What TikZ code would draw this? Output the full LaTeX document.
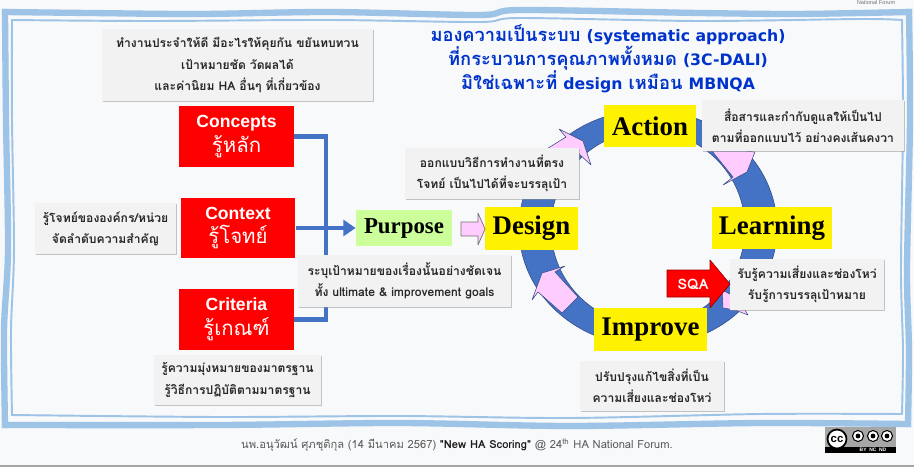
\documentclass[tikz,border=0pt]{standalone}
\usepackage{fontspec}
\usepackage{xcolor}
\usetikzlibrary{arrows.meta,shadows}
\setmainfont{Liberation Serif}
\newfontfamily\thaifont[Script=Thai]{Loma}
\newfontfamily\arialfont{Liberation Sans}
\newfontfamily\titlefont[Scale=0.86]{DejaVu Sans}
\definecolor{paper}{HTML}{F8F9FB}
\definecolor{frameblue}{HTML}{9DC3E6}
\definecolor{ringblue}{HTML}{4472C4}
\definecolor{ringedge}{HTML}{2F4A80}
\definecolor{pinkfill}{HTML}{FFCCFF}
\definecolor{notegray}{HTML}{F2F2F2}
\definecolor{titleblue}{HTML}{0033CC}
\tikzset{
  notebox/.style={fill=notegray, inner sep=0pt, align=center, text=black!85,
    font=\thaifont\bfseries\fontsize{6.9}{12}\selectfont,
    drop shadow={shadow xshift=0.7pt, shadow yshift=-0.7pt, fill=black!45}},
  redbox/.style={fill=red, text=white, inner sep=0pt, align=center,
    minimum width=2.3cm, minimum height=1.22cm},
  yellowbox/.style={fill=yellow, text=black, inner sep=0pt,
    font=\bfseries\fontsize{15.3}{18}\selectfont},
  pinkpart/.style={fill=pinkfill, draw=ringedge, line width=0.3pt, line join=round},
  thickframe/.style={frameblue, line width=3.6pt, line cap=rect},
  thinframe/.style={frameblue, line width=1.1pt, line cap=rect},
  conn/.style={draw=ringblue, line width=2.4pt},
}
\newcommand{\redtext}[2]{\arialfont\bfseries\fontsize{10}{13}\selectfont #1\\[2pt]\thaifont\mdseries\fontsize{11.6}{14}\selectfont #2}
\newcommand{\titlelatin}[1]{{\titlefont\bfseries #1}}
\begin{document}
\begin{tikzpicture}[x=0.02cm,y=-0.02cm]
\useasboundingbox (0,0) rectangle (914,467);
\fill[paper] (0,0) rectangle (914,467);
\fill[black!35] (0,465) rectangle (914,467);

% Draw the wavy frame, thick outer line and thin inner line
\draw[thickframe] plot[smooth, tension=0.5] coordinates {(5,12) (90,13) (200,14) (330,12) (480,15) (520,10) (700,13) (790,14) (860,13) (909,12)};
\draw[thickframe] plot[smooth, tension=0.5] coordinates {(909,12) (910,120) (907,270) (909,350) (908,424)};
\draw[thickframe] plot[smooth, tension=0.5] coordinates {(908,424) (760,423) (570,426) (400,423) (220,425) (5,425)};
\draw[thickframe] plot[smooth, tension=0.5] coordinates {(5,425) (4,330) (8,250) (6,120) (5,12)};
\draw[thinframe] plot[smooth, tension=0.5] coordinates {(12,20) (150,21) (330,20) (480,22) (520,18) (700,21) (860,19) (902,20)};
\draw[thinframe] plot[smooth, tension=0.5] coordinates {(902,20) (903,120) (901,270) (903,350) (902,414)};
\draw[thinframe] plot[smooth, tension=0.5] coordinates {(902,414) (760,414) (570,418) (400,416) (220,417) (12,415)};
\draw[thinframe] plot[smooth, tension=0.5] coordinates {(12,415) (11,330) (14,250) (12,120) (12,20)};
\node (forumtag) at (876,2) {\arialfont\fontsize{3.2}{4}\selectfont\textcolor{black!55}{National Forum}};

% Draw the title
\node[align=center, text=titleblue, font=\thaifont\bfseries\fontsize{10.4}{13.6}\selectfont] (title) at (608,59)
    {มองความเป็นระบบ  \titlelatin{(systematic approach)}\\ที่กระบวนการคุณภาพทั้งหมด \titlelatin{(3C-DALI)}\\มิใช่เฉพาะที่ \titlelatin{design} เหมือน \titlelatin{MBNQA}};

% Draw the ring and the pink arrows on it
\draw[fill=ringblue, draw=ringedge, line width=0.3pt, even odd rule]
    (648,228) ellipse [x radius=129, y radius=118]
    (648,228) ellipse [x radius=97, y radius=97];
\draw[pinkpart] (559,129) -- (583,141) -- (591,165) -- (577,152) -- (556,170) -- (545,150) -- (566,137) -- cycle;
\draw[pinkpart] (712,151) -- (745,151) -- (755,152) -- (747,172) -- (723,185) -- (733,177) -- cycle;
\draw[pinkpart] (562,313) -- (578,297) -- (555,272) -- (565,266) -- (542,273) -- (532,300) -- (538,292) -- cycle;
\draw[pinkpart] (722,290) -- (723,308) -- (735,310) -- (748,315) -- (738,298) -- cycle;

% Draw the red boxes and the lines to Purpose
\node[redbox] (concepts) at (236.5,136.5) {\redtext{Concepts}{รู้หลัก}};
\node[redbox] (context) at (238,228) {\redtext{Context}{รู้โจทย์}};
\node[redbox] (criteria) at (236.5,319.5) {\redtext{Criteria}{รู้เกณฑ์}};
\node[fill={rgb,255:red,204;green,255;blue,153}, inner sep=0pt, minimum width=1.92cm, minimum height=0.72cm,
    font=\bfseries\fontsize{13}{16}\selectfont] (purpose) at (404,228) {Purpose};
\coordinate (junction) at (326,228);
\draw[conn] (concepts.east) -| (junction);
\draw[conn] (criteria.east) -| (junction);
\draw[conn, -{Triangle[length=7pt,width=9pt]}] (context.east) -- (purpose.west);

% Draw the yellow boxes
\node[yellowbox, minimum width=1.84cm, minimum height=0.84cm] (action) at (650,126) {Action};
\node[yellowbox, minimum width=1.86cm, minimum height=0.86cm] (design) at (531.5,228.5) {Design};
\node[yellowbox, minimum width=2.4cm, minimum height=0.84cm] (learning) at (772,228) {Learning};
\node[yellowbox, minimum width=2.26cm, minimum height=0.86cm] (improve) at (650.5,329.5) {Improve};
\draw[fill=pinkfill, draw=black!55, line width=0.4pt, line join=round]
    (461,222) -- (478,222) -- (478,213) -- (485,229) -- (478,245) -- (478,236) -- (461,236) -- cycle;

% Draw the grey notes
\node[notebox, minimum width=5.42cm, minimum height=1.44cm] (noteConcepts) at (237.5,65)
    {ทำงานประจำให้ดี มีอะไรให้คุยกัน ขยันทบทวน\\เป้าหมายชัด วัดผลได้\\และค่านิยม HA อื่นๆ ที่เกี่ยวข้อง};
\node[notebox, minimum width=2.82cm, minimum height=1.02cm] (noteContext) at (105.5,228.5)
    {รู้โจทย์ขององค์กร/หน่วย\\จัดลำดับความสำคัญ};
\node[notebox, minimum width=3.34cm, minimum height=1cm] (noteCriteria) at (237.5,380)
    {รู้ความมุ่งหมายของมาตรฐาน\\รู้วิธีการปฏิบัติตามมาตรฐาน};
\node[notebox, minimum width=4.26cm, minimum height=1.04cm] (notePurpose) at (404.5,281)
    {ระบุเป้าหมายของเรื่องนั้นอย่างชัดเจน\\ทั้ง ultimate \& improvement goals};
\node[notebox, minimum width=3.48cm, minimum height=1.02cm] (noteDesign) at (492,173.5)
    {ออกแบบวิธีการทำงานที่ตรง\\โจทย์  เป็นไปได้ที่จะบรรลุเป้า};
\node[notebox, minimum width=4.04cm, minimum height=1.02cm] (noteAction) at (803,125.5)
    {สื่อสารและกำกับดูแลให้เป็นไป\\ตามที่ออกแบบไว้ อย่างคงเส้นคงวา};
\node[notebox, minimum width=3.08cm, minimum height=1.02cm] (noteLearning) at (807,284.5)
    {รับรู้ความเสี่ยงและช่องโหว่\\รับรู้การบรรลุเป้าหมาย};
\node[notebox, minimum width=2.88cm, minimum height=1cm] (noteImprove) at (652,386)
    {ปรับปรุงแก้ไขสิ่งที่เป็น\\ความเสี่ยงและช่องโหว่};

% Draw the SQA arrow
\draw[fill=red, draw=red!60!black, line width=0.4pt, line join=round]
    (667,270) -- (710,270) -- (710,260) -- (730,284) -- (710,308) -- (710,297) -- (667,297) -- cycle;
\node[text=white, font=\thaifont\bfseries\fontsize{8.2}{9}\selectfont] (sqa) at (693,284) {SQA};

% Draw the footer and the licence badge
\node[text=black!65, font=\thaifont\fontsize{6.35}{8}\selectfont] (footer) at (457,445)
    {นพ.อนุวัฒน์ ศุภชุติกุล (14 มีนาคม 2567) \textcolor{black!90}{\bfseries "New HA Scoring"} @ 24\textsuperscript{th} HA National Forum.};
\fill[black!35] (825,427) rectangle (896,453);
\fill[black] (825,447) rectangle (896,453);
\node[circle, draw=black, line width=1pt, fill=white, inner sep=0pt, minimum size=0.38cm,
    font=\arialfont\bfseries\fontsize{6.5}{7}\selectfont] (ccmark) at (837,439) {cc};
\foreach \cx/\name in {858/by,873/nc,887/nd}{
  \node[circle, draw=black, line width=0.6pt, fill=white, inner sep=0pt, minimum size=0.22cm] (\name) at (\cx,436) {};
  \fill[black] (\cx,436) circle (2.4);
}
\node[text=white, font=\arialfont\bfseries\fontsize{2.8}{3}\selectfont] (ccterms) at (873,450) {BY\ \ NC\ \ ND};
\end{tikzpicture}
\end{document}
